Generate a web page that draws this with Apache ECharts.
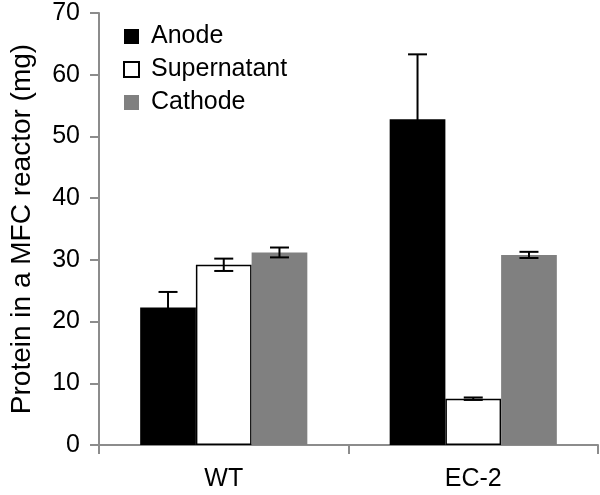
<!DOCTYPE html>
<html><head><meta charset="utf-8">
<script src="https://cdn.jsdelivr.net/npm/echarts@6/dist/echarts.min.js"></script>
<style>html,body{margin:0;padding:0;background:#fff}#c{width:600px;height:495px}</style>
</head><body><div id="c"></div>
<script>
var categories = ['WT', 'EC-2'];
var seriesNames = ['Anode', 'Supernatant', 'Cathode'];
var anode = [22.3, 52.8];
var anodeErr = [2.5, 10.5];
var supernatant = [29.2, 7.5];
var supernatantErr = [1.0, 0.2];
var cathode = [31.2, 30.8];
var cathodeErr = [0.8, 0.5];
var yTicks = [0, 10, 20, 30, 40, 50, 60, 70];

var FONT = 'Liberation Sans, Arial, sans-serif';
var gap = 0.33;
var vals = [anode, supernatant, cathode];
var errs = [anodeErr, supernatantErr, cathodeErr];
var errData = [];
for (var s = 0; s < 3; s++) {
  for (var i = 0; i < categories.length; i++) {
    errData.push([i, vals[s][i] - errs[s][i], vals[s][i] + errs[s][i], s]);
  }
}

var chart = echarts.init(document.getElementById('c'), null, {renderer: 'canvas'});
chart.setOption({
  animation: false,
  backgroundColor: '#fff',
  grid: {left: 97, right: 2, top: 13, bottom: 50},
  legend: {
    orient: 'vertical', left: 118, top: 19, itemGap: 8,
    itemWidth: 15, itemHeight: 15, icon: 'rect',
    textStyle: {fontSize: 25, fontFamily: FONT, color: '#000', padding: [0, 0, 0, 7]},
    data: seriesNames
  },
  xAxis: {
    type: 'category', data: categories,
    axisLine: {lineStyle: {color: '#8c8c8c', width: 2}},
    axisTick: {show: true, length: 9, inside: false, lineStyle: {color: '#8c8c8c', width: 2}},
    axisLabel: {fontSize: 25, fontFamily: FONT, color: '#000', margin: 22}
  },
  yAxis: {
    type: 'value', min: yTicks[0], max: yTicks[yTicks.length - 1], interval: 10,
    name: 'Protein in a MFC reactor (mg)', nameLocation: 'middle', nameGap: 63,
    nameTextStyle: {fontSize: 28, fontFamily: FONT, color: '#000'},
    axisLine: {show: true, lineStyle: {color: '#8c8c8c', width: 2}},
    axisTick: {show: true, length: 9, lineStyle: {color: '#8c8c8c', width: 2}},
    axisLabel: {fontSize: 25, fontFamily: FONT, color: '#000', margin: 19},
    splitLine: {show: false}
  },
  series: [
    {name: 'Anode', type: 'bar', data: anode, barGap: '0%', barCategoryGap: '33%',
     itemStyle: {color: '#000'}},
    {name: 'Supernatant', type: 'bar', data: supernatant, barGap: '0%', barCategoryGap: '33%',
     itemStyle: {color: '#fff', borderColor: '#000', borderWidth: 1.5}},
    {name: 'Cathode', type: 'bar', data: cathode, barGap: '0%', barCategoryGap: '33%',
     itemStyle: {color: '#808080'}},
    {type: 'custom', data: errData, z: 10, silent: true,
     encode: {x: 0, y: [1, 2]},
     renderItem: function (params, api) {
       var ci = api.value(0), lo = api.value(1), hi = api.value(2), s = api.value(3);
       var catW = api.size([1, 0])[0];
       var bw = catW * (1 - gap) / 3;
       var pLo = api.coord([ci, lo]);
       var pHi = api.coord([ci, hi]);
       var x = pLo[0] + (s - 1) * bw;
       var cw = 9.5;
       var st = {stroke: '#000', lineWidth: 2};
       return {type: 'group', children: [
         {type: 'line', shape: {x1: x, y1: pLo[1], x2: x, y2: pHi[1]}, style: st},
         {type: 'line', shape: {x1: x - cw, y1: pHi[1], x2: x + cw, y2: pHi[1]}, style: st},
         {type: 'line', shape: {x1: x - cw, y1: pLo[1], x2: x + cw, y2: pLo[1]}, style: st}
       ]};
     }}
  ]
});
</script></body></html>
